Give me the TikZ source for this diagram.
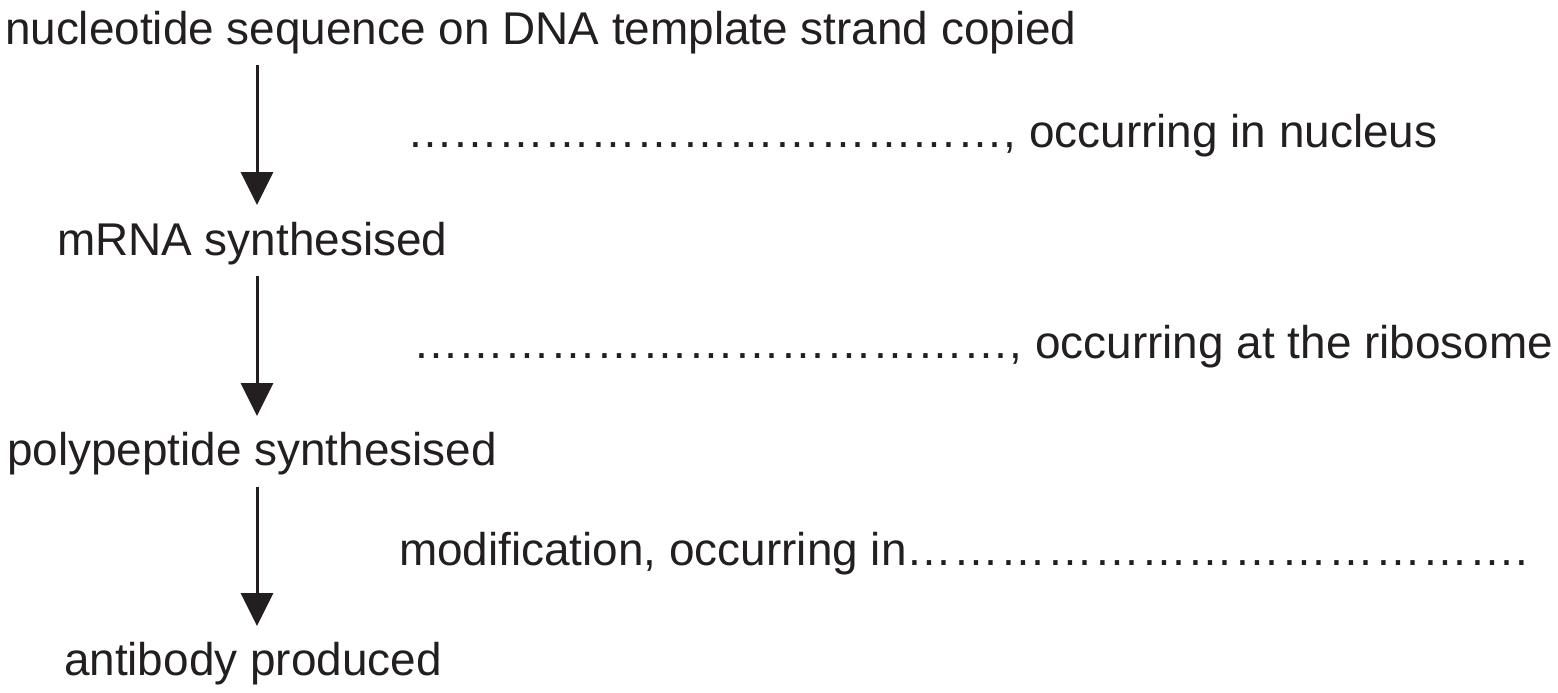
\documentclass[tikz,border=0pt]{standalone}
\usepackage{fontspec}
\setmainfont{Liberation Sans}
\usetikzlibrary{arrows.meta}
\definecolor{ink}{HTML}{231F20}
\newcommand\myel{…}
\newcommand\myels{\myel\myel\myel\myel\myel\myel\myel\myel\myel\myel\myel\myel\myel}
\newcommand\myelk{…\kern0.5pt}
\newcommand\myelsk{\myelk\myelk\myelk\myelk\myelk\myelk\myelk\myelk\myelk\myelk\myelk\myelk\myel}
\begin{document}
\begin{tikzpicture}[x=0.5pt,y=-0.5pt,
  lbl/.style={anchor=base west,inner sep=0pt,outer sep=0pt,text=ink,font=\fontsize{22.95}{27}\selectfont},
  flow/.style={draw=ink,line width=1.5pt,-{Triangle[width=16pt,length=16.5pt]}}]
\useasboundingbox (0,0) rectangle (1558,692);
\node[lbl] (n1) at (5,44) {nucleotide sequence on DNA template strand copied};
\node[lbl] (n2) at (57,255) {mRNA synthesised};
\node[lbl] (n3) at (7,465) {polypeptide synthesised};
\node[lbl] (n4) at (64,675) {antibody produced};
\node[lbl] (r1) at (407,147) {\myels, occurring in nucleus};
\node[lbl] (r2) at (413,358) {\myels, occurring at the ribosome};
\node[lbl] (r3) at (399,565) {modification, occurring in\myelsk.};
\coordinate (a1s) at (257,65);  \coordinate (a1e) at (257,205);
\coordinate (a2s) at (257,276); \coordinate (a2e) at (257,416);
\coordinate (a3s) at (257,487); \coordinate (a3e) at (257,626);
\draw[flow] (a1s) -- (a1e);
\draw[flow] (a2s) -- (a2e);
\draw[flow] (a3s) -- (a3e);
\end{tikzpicture}
\end{document}
